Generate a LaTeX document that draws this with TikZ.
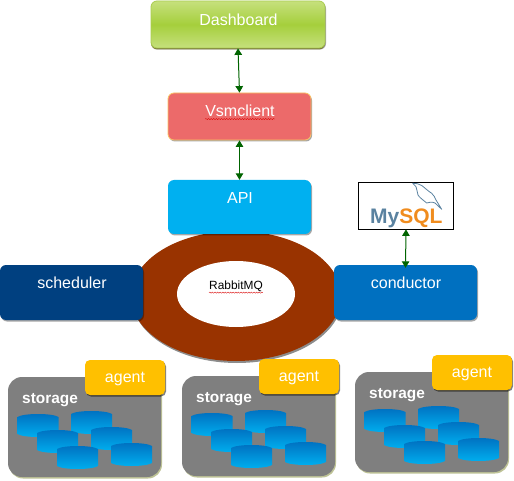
\documentclass[tikz,border=0pt]{standalone}
\usepackage{fontspec}
\setmainfont{Liberation Sans}
\usetikzlibrary{arrows.meta,decorations.pathmorphing,shapes.geometric,shadows}
\definecolor{arrowgreen}{RGB}{0,100,0}
\definecolor{apiblue}{RGB}{0,176,240}
\definecolor{condblue}{RGB}{0,112,192}
\definecolor{schedblue}{RGB}{0,64,128}
\definecolor{ringbrown}{RGB}{153,51,0}
\definecolor{agentyellow}{RGB}{255,192,0}
\definecolor{storegray}{RGB}{127,127,127}
\definecolor{pinkred}{RGB}{236,106,106}
\definecolor{dashlight}{RGB}{198,224,125}
\definecolor{dashmid}{RGB}{165,207,60}
\definecolor{dashedge}{RGB}{170,205,80}
\definecolor{vsmedge}{RGB}{250,195,100}
\definecolor{dolphin}{RGB}{90,130,160}
\definecolor{mysqlorange}{RGB}{240,140,30}
\definecolor{storeshadow}{RGB}{190,195,150}
\tikzset{
  x=1pt,y=-1pt,
  softshadow/.style={drop shadow={shadow xshift=1pt,shadow yshift=-1.5pt,fill=black,opacity=.35}},
  boxnode/.style={rounded corners=6pt,softshadow,inner sep=0pt},
  lbl/.style={text=white,font=\fontsize{16}{18}\selectfont,inner sep=0pt},
  link/.style={draw=arrowgreen,line width=1pt,{Triangle[width=7.5pt,length=6.5pt]}-{Triangle[width=7.5pt,length=6.5pt]}},
  wavy/.style={draw=red!85!black,line width=.35pt,decorate,decoration={snake,amplitude=.6pt,segment length=2.6pt}},
  storelbl/.style={text=white,font=\bfseries\fontsize{15.4}{17}\selectfont,inner sep=0pt},
}
\newcommand{\dsk}[2]{%
  \shade[top color=condblue,bottom color=apiblue]
    (#1,#2+3) .. controls (#1+6,#2-1) and (#1+35,#2-1) .. (#1+41,#2+3)
    -- (#1+41,#2+20) .. controls (#1+35,#2+24) and (#1+6,#2+24) .. (#1,#2+20) -- cycle;
}
\newcommand{\storagegroup}[3]{% prefix, x, y
  \begin{scope}[shift={(#2,#3)}]
    \path[rounded corners=14pt,drop shadow={shadow xshift=1pt,shadow yshift=-1.5pt,fill=storeshadow,opacity=1},fill=storegray] (0,0) rectangle (153,100);
    \node[storelbl,anchor=west] (#1lbl) at (14,23) {storage};
    \dsk{9.5}{37}
    \dsk{63}{34}
    \dsk{29}{53}
    \dsk{83}{50}
    \dsk{49}{69}
    \dsk{103}{66}
    \path[fill=agentyellow,rounded corners=5pt,drop shadow={shadow xshift=1pt,shadow yshift=-1.5pt,fill=black,opacity=.5}] (77,-17) rectangle (157,18);
    \node[lbl] (#1ag) at (117,2) {agent};
  \end{scope}
}
\begin{document}
\begin{tikzpicture}
\useasboundingbox (0,0) rectangle (514,481);
\fill[white] (0,0) rectangle (514,481);

% ring
\fill[black!45] (237,298) ellipse (105 and 65);
\node[ellipse,fill=ringbrown,minimum width=210pt,minimum height=130pt,inner sep=0pt] (ring) at (236,296) {};
\node[ellipse,fill=white,minimum width=118pt,minimum height=66pt,inner sep=0pt] (mq) at (236,294) {};
\node[inner sep=0pt,font=\fontsize{11.9}{13}\selectfont] (mqt) at (236,286) {RabbitMQ};
\draw[wavy] ([yshift=-1pt]mqt.south west) -- ([yshift=-1pt]mqt.south east);

% dashboard
\node[boxnode,draw=dashedge,line width=.8pt,minimum width=174pt,minimum height=47pt,
  top color=dashlight,bottom color=dashlight,middle color=dashmid,
  drop shadow={shadow xshift=0pt,shadow yshift=-1.5pt,fill=olive!70!black,opacity=.8}] (dashbox) at (238,24.5) {};
\node[lbl] (dash) at (238.5,19.5) {Dashboard};

% vsmclient
\node[boxnode,fill=pinkred,draw=vsmedge,line width=.8pt,minimum width=143pt,minimum height=47pt] (vsmbox) at (239.5,116.5) {};
\node[lbl] (vsm) at (240,111) {Vsmclient};
\draw[wavy] ([yshift=-2pt]vsm.south west) -- ([yshift=-2pt]vsm.south east);

% api
\node[boxnode,fill=apiblue,minimum width=143pt,minimum height=54pt] (apibox) at (239.5,207) {};
\node[lbl] (api) at (240,198) {API};

% scheduler
\node[boxnode,fill=schedblue,minimum width=143pt,minimum height=55pt] (schedbox) at (71.5,292.5) {};
\node[lbl] (sched) at (72,283) {scheduler};

% conductor
\node[boxnode,fill=condblue,minimum width=143pt,minimum height=55pt] (condbox) at (405.5,292.5) {};
\node[lbl] (cond) at (406,283) {conductor};

% mysql
\node[draw=black,fill=white,line width=.8pt,minimum width=95pt,minimum height=47pt,inner sep=0pt] (mysql) at (406,205.5) {};
\node[inner sep=0pt,anchor=base west,font=\bfseries\fontsize{21}{22}\selectfont] (mysqlt) at (370,224)
  {\textcolor{dolphin}{My}\textcolor{mysqlorange}{SQL}};
\draw[draw=dolphin,line width=.8pt,line join=round,line cap=round]
  (412.7,183.3) .. controls (416,183) and (419,184) .. (421.7,185.5)
  .. controls (425,188) and (428,191) .. (431.7,193.3)
  .. controls (434,195) and (435,198) .. (436,200)
  -- (441.7,209.3) -- (435,203)
  .. controls (431,201) and (429,203) .. (426.7,203)
  .. controls (423,200) and (419,197) .. (418,195)
  .. controls (417,192) and (417,189) .. (416,186.7) -- cycle;

% links
\draw[link] (dashbox.south) -- (vsmbox.north);
\draw[link] (vsmbox.south) -- (apibox.north);
\draw[link] (mysql.south) -- ([yshift=-3pt]condbox.north);

% storage
\storagegroup{sa}{8}{377}
\storagegroup{sb}{182}{376}
\storagegroup{sc}{355}{372}
\end{tikzpicture}
\end{document}
